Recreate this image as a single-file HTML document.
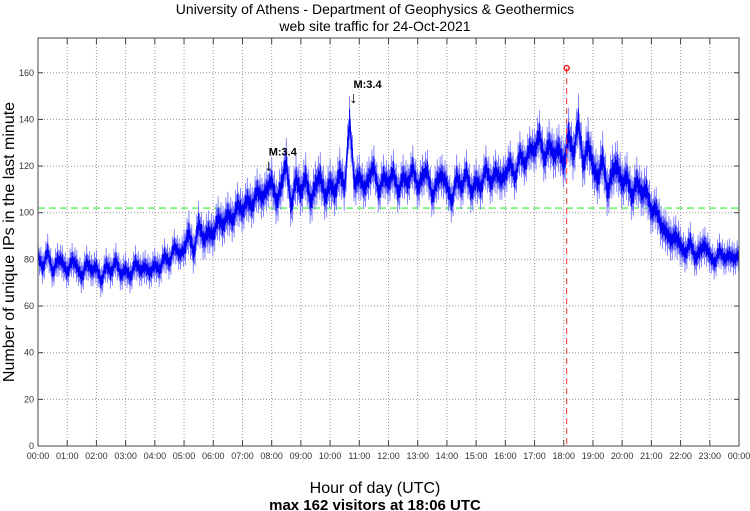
<!DOCTYPE html>
<html><head><meta charset="utf-8"><style>
html,body{margin:0;padding:0;background:#fff;}
svg{display:block;font-family:"Liberation Sans",sans-serif;}
</style></head><body>
<svg id="chart" width="750" height="511" xmlns="http://www.w3.org/2000/svg">
<text x="375" y="14" text-anchor="middle" font-size="14">University of Athens - Department of Geophysics &amp; Geothermics</text>
<text x="375" y="31" text-anchor="middle" font-size="14">web site traffic for 24-Oct-2021</text>
<text transform="translate(14,242) rotate(-90)" text-anchor="middle" font-size="16">Number of unique IPs in the last minute</text>
<text x="375" y="493" text-anchor="middle" font-size="16">Hour of day (UTC)</text>
<text x="375" y="510" text-anchor="middle" font-size="15" font-weight="bold">max 162 visitors at 18:06 UTC</text>
<g id="grid"></g>
<g id="series"></g>
<g id="ann"></g>
<rect x="38" y="38" width="701" height="408" fill="none" stroke="#444" stroke-width="1"/>
</svg>
<script>
const yTicks=[0,20,40,60,80,100,120,140,160];
const xTickLabels=["00:00","01:00","02:00","03:00","04:00","05:00","06:00","07:00","08:00","09:00","10:00","11:00","12:00","13:00","14:00","15:00","16:00","17:00","18:00","19:00","20:00","21:00","22:00","23:00","00:00"];
const visitors=[82,76,84,74,80,79, 74,80,77,72,79,75, 77,70,78,74,80,73, 76,72,79,75,77,74,
78,75,82,78,86,82, 84,92,82,96,88,92, 90,98,94,100,96,104, 100,106,102,110,106,110,
114,104,112,122,102,115, 108,116,104,112,116,106, 113,108,118,110,140,112, 116,110,115,120,108,116,
112,118,108,116,112,120, 110,116,118,106,114,116, 112,104,116,110,118,108, 114,110,120,112,118,114,
116,122,114,126,120,128, 126,134,122,130,124,128, 120,134,124,140,120,130, 120,114,124,108,118,120,
112,116,106,114,108,110, 100,102,94,92,88,90, 86,82,88,80,84,86, 82,78,84,80,82,80, 82];
const spread=[7,7,7,7,7,9,9,9,10,10,10,9,9,9,9,9,9,10,11,11,10,9,8,7];
const stepMinutes=[10];
const meanLevel=[102];
const peak={hour:18.1,value:162};
const events=[{hour:7.9,value:118,label:"M:3.4"},{hour:10.8,value:147,label:"M:3.4"}];

const L=38,R=739,T=38,B=446,YMAX=174.9;
const xs=h=>L+(R-L)*h/24;
const ys=v=>B-(B-T)*v/YMAX;
const NS="http://www.w3.org/2000/svg";
function mk(tag,attrs,parent){const e=document.createElementNS(NS,tag);for(const k in attrs)e.setAttribute(k,attrs[k]);parent.appendChild(e);return e;}
const grid=document.getElementById('grid'),ser=document.getElementById('series'),ann=document.getElementById('ann');

yTicks.forEach(v=>{
  const y=ys(v);
  if(v>0){const g=mk('line',{x1:L,x2:R,y1:y,y2:y,stroke:'#999','stroke-dasharray':'1,2'},grid);
  
  }
  mk('line',{x1:L,x2:L+5,y1:y,y2:y,stroke:'#444'},grid);
  mk('line',{x1:R-5,x2:R,y1:y,y2:y,stroke:'#444'},grid);
  const t=mk('text',{x:L-4,y:y+3,'text-anchor':'end','font-size':9,fill:'#333'},grid);
  t.textContent=v;
  
  
});
xTickLabels.forEach((lab,i)=>{
  const x=xs(i);
  if(i>0&&i<24){const g=mk('line',{x1:x,x2:x,y1:T,y2:B,stroke:'#999','stroke-dasharray':'1,2'},grid);
  
  }
  mk('line',{x1:x,x2:x,y1:B,y2:B-6,stroke:'#444'},grid);
  mk('line',{x1:x,x2:x,y1:T,y2:T+6,stroke:'#444'},grid);
  const t=mk('text',{x:x,y:B+13,'text-anchor':'middle','font-size':9,fill:'#333'},grid);
  t.textContent=lab;
  
  
});

const gl=mk('line',{x1:L,x2:R,y1:ys(meanLevel[0]),y2:ys(meanLevel[0]),stroke:'#33ee33','stroke-dasharray':'7,4','stroke-width':1.2},ser);



// dense band: zigzag around each 10-minute value using the hourly spread
const step=stepMinutes[0];
let bandPts=[], innerPts=[];
for(let i=0;i<visitors.length-1;i++){
  const v0=visitors[i],v1=visitors[i+1],s=spread[Math.min(23,Math.floor(i*step/60))];
  for(let k=0;k<step;k++){
    const h=(i*step+k)/60, base=v0+(v1-v0)*k/step;
    const sign=(k%2===0)?1:-1, amp=(k%3===0)?s:s*0.6;
    bandPts.push(xs(h).toFixed(1)+','+ys(base+sign*amp).toFixed(1));
    innerPts.push(xs(h).toFixed(1)+','+ys(base+sign*amp*0.45).toFixed(1));
  }
}
const bl=mk('polyline',{points:bandPts.join(' '),fill:'none',stroke:'#7777ff','stroke-width':0.8},ser);


const il=mk('polyline',{points:innerPts.join(' '),fill:'none',stroke:'#0000ee','stroke-width':0.8},ser);



const pts=visitors.map((v,i)=>xs(i*step/60).toFixed(1)+','+ys(v).toFixed(1)).join(' ');
const pl=mk('polyline',{points:pts,fill:'none',stroke:'#0000ff','stroke-width':1},ser);



const px=xs(peak.hour);
const rl=mk('line',{x1:px,x2:px,y1:ys(peak.value),y2:B,stroke:'#ff3333','stroke-dasharray':'6,4'},ann);


const pc=mk('circle',{cx:px,cy:ys(peak.value),r:2.5,fill:'none',stroke:'#ff0000','stroke-width':1.3},ann);



events.forEach(ev=>{
  const x=xs(ev.hour),y=ys(ev.value);
  const a=mk('text',{x:x,y:y,'text-anchor':'middle','font-size':16},ann);
  a.textContent='↓';
  
  
  const t=mk('text',{x:x,y:y-15,'font-size':11,'font-weight':'bold'},ann);
  t.textContent=ev.label;
  
  
});
</script>
</body></html>
